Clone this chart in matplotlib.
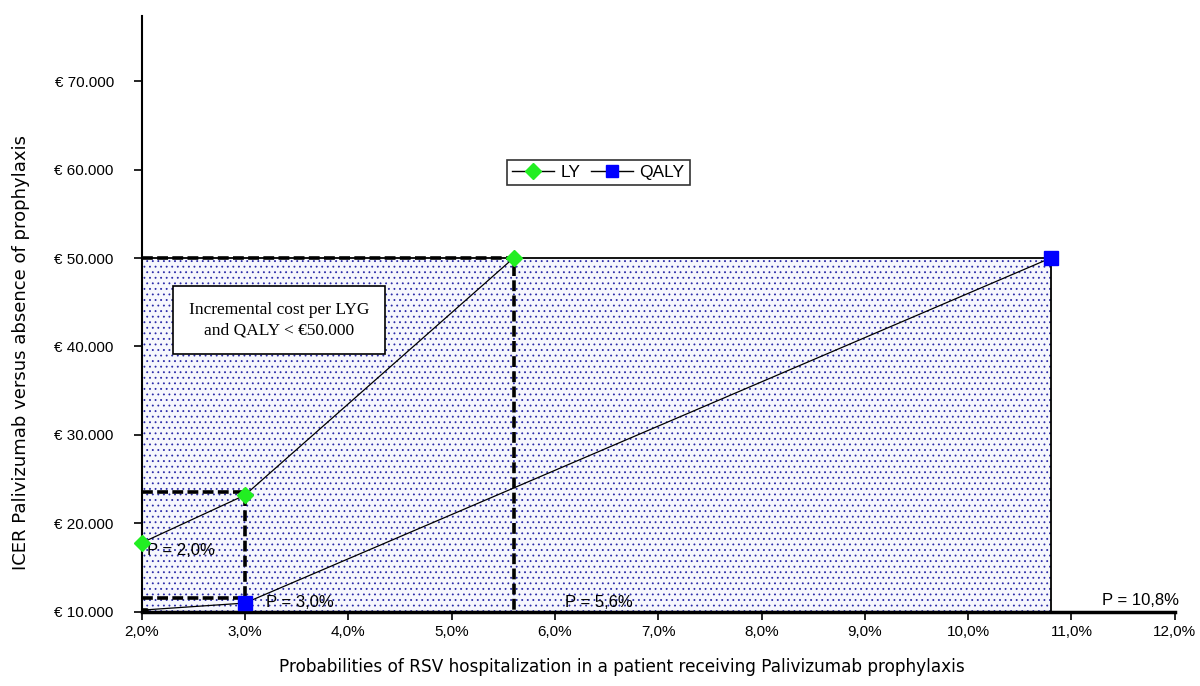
import matplotlib.pyplot as plt
from matplotlib.patches import Rectangle
from matplotlib.lines import Line2D
from matplotlib.ticker import FuncFormatter

# data
ly_prob = [2.0, 3.0, 5.6]
ly_icer = [17800, 23200, 50000]
qaly_prob = [2.0, 3.0, 10.8]
qaly_icer = [10200, 11000, 50000]
p_labels = ['P = 2,0%', 'P = 3,0%', 'P = 5,6%', 'P = 10,8%']
threshold = 50000

plt.rcParams['font.family'] = ['Liberation Sans', 'DejaVu Sans']
plt.rcParams['hatch.color'] = '#2a2aa8'
plt.rcParams['hatch.linewidth'] = 0.6

fig = plt.figure(figsize=(12, 6.86), dpi=100)
ax = fig.add_axes([0.118, 0.108, 0.861, 0.868])

x0, x1 = 2.0, 12.0
y0, y1 = 10000, 77300

# shaded region under the threshold
rect = Rectangle((x0, y0), qaly_prob[-1] - x0, threshold - y0, facecolor='#f6f7fd',
                 edgecolor='#2a2aa8', hatch='...', linewidth=0, zorder=1)
ax.add_patch(rect)
ax.plot([x0, qaly_prob[-1], qaly_prob[-1]], [threshold, threshold, y0], color='black', lw=1.3, zorder=2)

# dashed reference lines to the axes
for px, py in [(ly_prob[1], ly_icer[1] + 400), (ly_prob[2], ly_icer[2]), (qaly_prob[1], qaly_icer[1] + 600),
               (qaly_prob[0] + 0.05, qaly_icer[0])]:
    ax.plot([x0, px, px], [py, py, y0], color='black', lw=2.6, ls=(0, (3, 1.2)), zorder=3)

ax.plot(ly_prob, ly_icer, color='black', lw=0.9, zorder=4)
ax.plot(ly_prob, ly_icer, ls='none', marker='D', ms=8, color='#22ee22', zorder=5, clip_on=False)
ax.plot(qaly_prob, qaly_icer, color='black', lw=0.9, zorder=4)
ax.plot(qaly_prob[1:], qaly_icer[1:], ls='none', marker='s', ms=10, color='#0000ff', zorder=5, clip_on=False)

# P labels
ax.text(2.05, 16400, p_labels[0], fontsize=12)
ax.text(3.2, 10500, p_labels[1], fontsize=12)
ax.text(6.1, 10500, p_labels[2], fontsize=12)
ax.text(11.3, 10800, p_labels[3], fontsize=12)

ax.text(3.33, 43000, 'Incremental cost per LYG\nand QALY < €50.000', family=['Liberation Serif', 'DejaVu Serif'],
        fontsize=12.5, ha='center', va='center', linespacing=1.4,
        bbox=dict(boxstyle='square,pad=0.9', facecolor='white', edgecolor='black', lw=1.2), zorder=6)

handles = [Line2D([], [], color='black', lw=1, marker='D', ms=8, mfc='#22ee22', mec='#22ee22'),
           Line2D([], [], color='black', lw=1, marker='s', ms=9, mfc='#0000ff', mec='#0000ff')]
leg = ax.legend(handles, ['LY', 'QALY'], ncol=2, loc='center', bbox_to_anchor=(0.442, 0.738),
                fontsize=12.5, handlelength=2.4, columnspacing=0.6, handletextpad=0.4,
                fancybox=False, edgecolor='black', borderpad=0.3)
leg.get_frame().set_linewidth(1.2)

ax.set_xlim(x0, x1)
ax.set_ylim(y0, y1)
ax.set_xticks([2, 3, 4, 5, 6, 7, 8, 9, 10, 11, 12])
ax.set_yticks([10000, 20000, 30000, 40000, 50000, 60000, 70000])
ax.xaxis.set_major_formatter(FuncFormatter(lambda v, p: f'{v:.1f}%'.replace('.', ',')))
ax.yaxis.set_major_formatter(FuncFormatter(lambda v, p: '€ ' + f'{v:,.0f}'.replace(',', '.')))
ax.tick_params(labelsize=11, length=6, width=1.2, direction='out')
ax.tick_params(axis='y', pad=14)
ax.spines['top'].set_visible(False)
ax.spines['right'].set_visible(False)
ax.spines['left'].set_linewidth(1.5)
ax.spines['bottom'].set_linewidth(2.5)
ax.set_xlabel('Probabilities of RSV hospitalization in a patient receiving Palivizumab prophylaxis',
              fontsize=12.2, family=['DejaVu Sans'])
ax.set_ylabel('ICER Palivizumab versus absence of prophylaxis', fontsize=13, family=['DejaVu Sans'])
ax.xaxis.set_label_coords(0.465, -0.077)
ax.yaxis.set_label_coords(-0.108, 0.435)

fig.savefig('out.png', dpi=100)
